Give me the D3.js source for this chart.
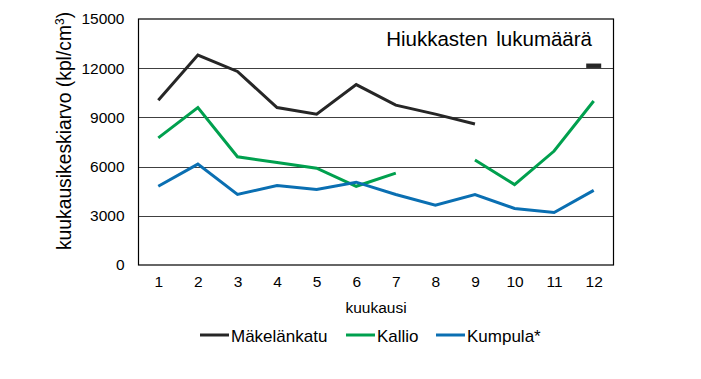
<!DOCTYPE html>
<html><head><meta charset="utf-8">
<script src="https://cdn.jsdelivr.net/npm/d3@7"></script>
<style>body{margin:0;background:#fff}svg{display:block}text{font-family:"Liberation Sans",Arial,sans-serif;fill:#000}</style>
</head><body>
<script>
const months = [1,2,3,4,5,6,7,8,9,10,11,12];
const yTicks = [0,3000,6000,9000,12000,15000];
const makelankatu = [10050,12800,11800,9600,9200,11000,9750,9200,8600,null,null,12150];
const kallio = [7750,9600,6600,6250,5900,4800,5600,null,6400,4900,6950,10000];
const kumpula = [4800,6150,4300,4850,4600,5050,4300,3650,4300,3450,3200,4550];
const seriesNames = ["Mäkelänkatu","Kallio","Kumpula*"];
const colors = ["#262626","#00a04e","#0a6fb2"];
const title = "Hiukkasten lukumäärä";

const W=701,H=379, L=138.5, R=613.5, T=19, B=265;
const svg=d3.select("body").append("svg").attr("width",W).attr("height",H);
const x=d3.scalePoint().domain(months).range([L,R]).padding(0.5);
const y=d3.scaleLinear().domain([0,15000]).range([B,T]);

// gridlines
svg.append("g").selectAll("line").data(yTicks.filter(v=>v>0&&v<15000)).join("line")
  .attr("x1",L).attr("x2",R).attr("y1",d=>Math.round(y(d))+0.5).attr("y2",d=>Math.round(y(d))+0.5)
  .attr("stroke","#404040").attr("stroke-width",1);

// y tick labels
const ya=svg.append("g").attr("transform",`translate(${L},0)`)
  .call(d3.axisLeft(y).tickValues(yTicks).tickSize(0).tickPadding(14).tickFormat(d3.format("d")));
ya.select(".domain").remove();
ya.selectAll("text").style("font-size","15.5px").style("font-family","Liberation Sans, Arial, sans-serif").attr("fill","#000");

// x tick labels
const xa=svg.append("g").attr("transform",`translate(0,${B})`)
  .call(d3.axisBottom(x).tickSize(0).tickPadding(11));
xa.select(".domain").remove();
xa.selectAll("text").style("font-size","15.5px").style("font-family","Liberation Sans, Arial, sans-serif").attr("fill","#000");

// lines
const data=[makelankatu,kallio,kumpula];
const line=d3.line().defined(d=>d.v!=null).x(d=>x(d.m)).y(d=>y(d.v));
data.forEach((s,i)=>{
  const pts=s.map((v,j)=>({m:months[j],v}));
  svg.append("path").datum(pts).attr("d",line).attr("fill","none")
    .attr("stroke",colors[i]).attr("stroke-width",3).attr("stroke-linejoin","miter");
  pts.forEach((p,j)=>{
    if(p.v==null) return;
    const prev=j>0?pts[j-1].v:null, next=j<pts.length-1?pts[j+1].v:null;
    if(prev==null&&next==null){
      svg.append("rect").attr("x",x(p.m)-7.5).attr("y",y(p.v)-2.2).attr("width",15).attr("height",4.4)
        .attr("fill",colors[i]);
    }
  });
});

// frame
svg.append("rect").attr("x",L).attr("y",T).attr("width",R-L).attr("height",B-T)
  .attr("fill","none").attr("stroke","#000").attr("stroke-width",1.2);

// title
svg.append("text").attr("x",592).attr("y",46).attr("text-anchor","end")
  .style("font-size","20.5px").style("word-spacing","3px").text(title);

// y axis label
svg.append("text").attr("transform",`translate(71,131) rotate(-90)`).attr("text-anchor","middle")
  .style("font-size","19.3px").html('kuukausikeskiarvo (kpl/cm<tspan dy="-7" style="font-size:12px">3</tspan><tspan dy="7">)</tspan>');

// x axis label
svg.append("text").attr("x",376).attr("y",313).attr("text-anchor","middle").style("font-size","15.5px").text("kuukausi");

// legend
const legX=[200,346,436];
seriesNames.forEach((n,i)=>{
  svg.append("line").attr("x1",legX[i]).attr("x2",legX[i]+29).attr("y1",335).attr("y2",335)
    .attr("stroke",colors[i]).attr("stroke-width",3);
  svg.append("text").attr("x",legX[i]+31).attr("y",341.5).style("font-size","17px").text(n);
});
</script>
</body></html>
